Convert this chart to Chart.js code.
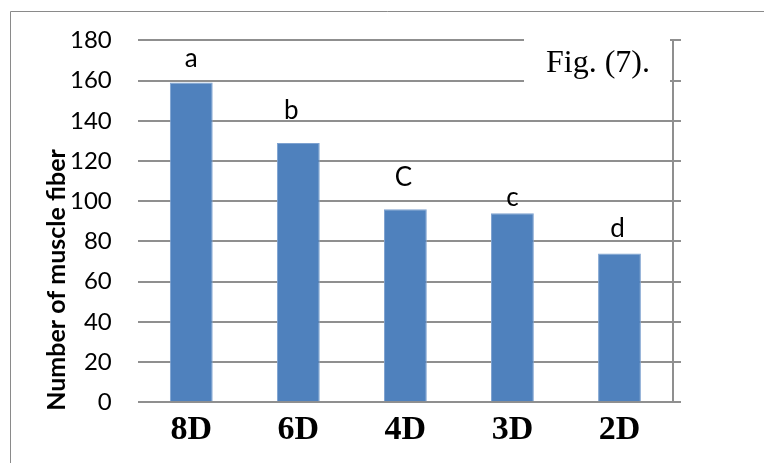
<!DOCTYPE html>
<html><head><meta charset="utf-8">
<script src="https://cdn.jsdelivr.net/npm/chart.js@4.4.1/dist/chart.umd.min.js"></script>
<style>html,body{margin:0;padding:0;background:#fff}</style>
</head><body>
<canvas id="c" width="764" height="463"></canvas>
<script>
const categories = ['8D', '6D', '4D', '3D', '2D'];
const fiberCounts = [159, 129, 96, 94, 74];
const groupLetters = ['a', 'b', 'C', 'c', 'd'];
const yTickValues = [0, 20, 40, 60, 80, 100, 120, 140, 160, 180];
const yAxisTitle = 'Number of muscle fiber';
const figureLabel = 'Fig. (7).';

const GRID = '#8f8f8f';
const letterGap = [16, 24, 23, 7, 16];
const letterShift = [0, -7, -2, 0, -2];

const deco = {
  id: 'deco',
  afterDraw(chart) {
    const ctx = chart.ctx;
    ctx.save();
    // outer frame (top and left visible)
    ctx.strokeStyle = '#8a8a8a';
    ctx.lineWidth = 1;
    ctx.beginPath();
    ctx.moveTo(10.5, 463);
    ctx.lineTo(10.5, 11.5);
    ctx.lineTo(764, 11.5);
    ctx.stroke();
    // figure label box
    ctx.fillStyle = '#ffffff';
    ctx.fillRect(524, 28, 146, 62);
    ctx.fillStyle = '#000';
    ctx.font = '32px "Liberation Serif"';
    ctx.textBaseline = 'alphabetic';
    ctx.textAlign = 'left';
    ctx.fillText(figureLabel, 546, 72);
    // y title
    ctx.save();
    ctx.translate(57, 280);
    ctx.rotate(-Math.PI / 2);
    ctx.font = 'bold 25px Lato';
    ctx.textAlign = 'center';
    ctx.textBaseline = 'middle';
    ctx.fillText(yAxisTitle, 0, 0);
    ctx.restore();
    // significance letters
    const meta = chart.getDatasetMeta(0);
    ctx.font = '26px Lato';
    ctx.textAlign = 'center';
    ctx.textBaseline = 'alphabetic';
    meta.data.forEach((bar, i) => {
      ctx.fillText(groupLetters[i], bar.x + letterShift[i], bar.y - letterGap[i]);
    });
    ctx.restore();
  }
};

new Chart(document.getElementById('c'), {
  type: 'bar',
  data: {
    labels: categories,
    datasets: [{
      data: fiberCounts,
      backgroundColor: '#4f81bd',
      borderColor: '#7ea2d0',
      borderWidth: 1,
      categoryPercentage: 1,
      barPercentage: 0.4
    }]
  },
  options: {
    responsive: false,
    animation: false,
    events: [],
    layout: { padding: { top: 28, left: 44, right: 83, bottom: 4 } },
    plugins: { legend: { display: false }, tooltip: { enabled: false } },
    scales: {
      x: {
        grid: { display: false, drawTicks: false },
        border: { display: false },
        ticks: {
          color: '#000',
          padding: 8,
          font: { family: '"Liberation Serif"', size: 34, weight: 'bold' }
        }
      },
      y: {
        min: 0, max: 180,
        afterBuildTicks(scale) { scale.ticks = yTickValues.map(v => ({ value: v })); },
        grid: { color: GRID, lineWidth: 2, drawTicks: false },
        border: { display: false },
        ticks: {
          color: '#000',
          padding: 26,
          font: { family: 'Lato', size: 24 }
        }
      },
      y2: {
        position: 'right',
        min: 0, max: 180,
        afterBuildTicks(scale) { scale.ticks = yTickValues.map(v => ({ value: v })); },
        grid: { drawOnChartArea: false, color: GRID, lineWidth: 2, tickLength: 8 },
        border: { display: true, color: GRID, width: 2 },
        ticks: { display: false }
      }
    }
  },
  plugins: [deco]
});
</script>
</body></html>
